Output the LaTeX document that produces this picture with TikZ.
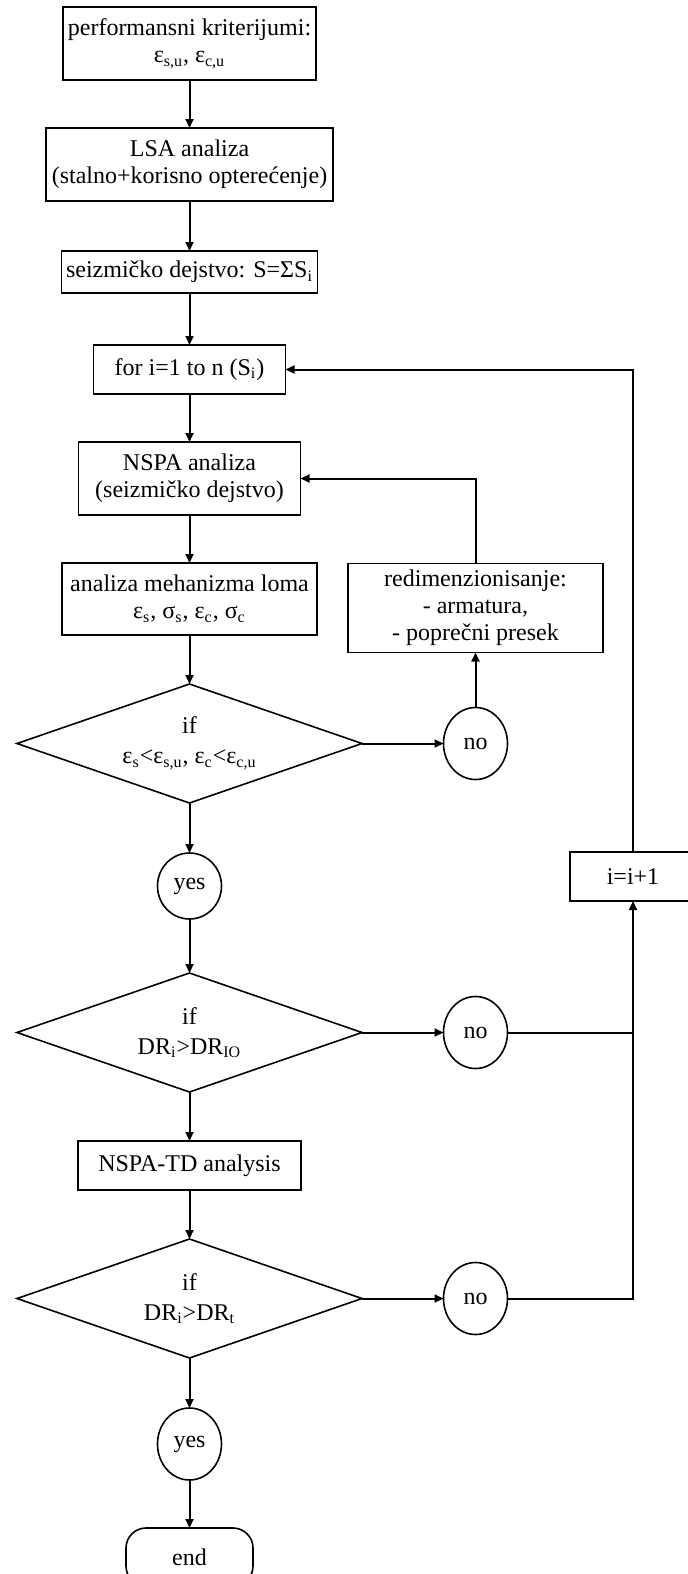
\documentclass[tikz,border=0pt]{standalone}
\usepackage{fontspec}
\setmainfont{Liberation Serif}
\usepackage{tikz}
\usetikzlibrary{arrows.meta, shapes.geometric, positioning}
\tikzset{
  procbox/.style={rectangle, draw, line width=0.8pt, align=center, inner sep=1pt, outer sep=0pt,
    font=\fontsize{12}{13.5}\selectfont},
  ifbox/.style={diamond, draw, line width=0.8pt, align=center, inner sep=0pt, outer sep=0pt, aspect=2.9,
    minimum width=172.5pt, minimum height=59.5pt, font=\fontsize{12}{15}\selectfont},
  answer/.style={ellipse, draw, line width=0.8pt, inner sep=0pt, outer sep=0pt,
    minimum width=32pt, minimum height=36pt, font=\fontsize{12}{13.5}\selectfont},
  flowarrow/.style={-{Triangle[length=4.5pt, width=4pt]}, line width=1pt},
}
\newcommand{\sbs}[1]{\textsubscript{#1}}

\begin{document}
\begin{tikzpicture}
  \useasboundingbox (0,0) rectangle (344pt,-787pt);

  % main column
  \node[procbox, minimum width=126.5pt, minimum height=36.5pt] (perf) at (94.75pt,-21.75pt)
    {performansni kriterijumi:\\ε\sbs{s,u}, ε\sbs{c,u}};
  \node[procbox, minimum width=143.5pt, minimum height=36.5pt, below=24pt of perf] (lsa)
    {LSA analiza\\(stalno+korisno opterećenje)};
  \node[procbox, minimum width=128pt, minimum height=21pt, below=25pt of lsa] (seism)
    {seizmičko dejstvo: S=ΣS\sbs{i}};
  \node[procbox, minimum width=96pt, minimum height=24.5pt, below=26pt of seism] (forloop)
    {for i=1 to n (S\sbs{i})};
  \node[procbox, minimum width=111pt, minimum height=36.5pt, below=24pt of forloop] (nspa)
    {NSPA analiza\\(seizmičko dejstvo)};
  \node[procbox, minimum width=127.5pt, minimum height=36pt, below=24pt of nspa] (mech)
    {analiza mehanizma loma\\ε\sbs{s}, σ\sbs{s}, ε\sbs{c}, σ\sbs{c}};
  \node[ifbox, below=24.5pt of mech] (if1) {if\\ε\sbs{s}<ε\sbs{s,u}, ε\sbs{c}<ε\sbs{c,u}};
  \node[answer, minimum height=33pt, below=25pt of if1] (yes1) {yes};
  \node[ifbox, below=27pt of yes1] (if2) {if\\DR\sbs{i}>DR\sbs{IO}};
  \node[procbox, minimum width=111.5pt, minimum height=24.5pt, below=24.5pt of if2] (td)
    {NSPA-TD analysis};
  \node[ifbox, below=24.5pt of td] (if3) {if\\DR\sbs{i}>DR\sbs{t}};
  \node[answer, below=25pt of if3] (yes2) {yes};
  \node[procbox, rounded corners=10pt, minimum width=63.5pt, minimum height=29pt,
    below=24pt of yes2] (stop) {end};

  % right side
  \foreach \n in {1,2,3}
    \node[answer, right=40.75pt of if\n] (no\n) {no};
  \node[procbox, minimum width=127.5pt, minimum height=44.5pt, above=27.5pt of no1] (redim)
    {redimenzionisanje:\\- armatura,\\- poprečni presek};
  \node[procbox, minimum width=63pt, minimum height=24.5pt] (inc) at (316.5pt,-438.25pt) {i=i+1};
  \coordinate (join) at (no2 -| inc);

  % connectors
  \foreach \a/\b in {perf/lsa, lsa/seism, seism/forloop, forloop/nspa, nspa/mech, mech/if1,
      if1/yes1, yes1/if2, if2/td, td/if3, if3/yes2, yes2/stop}
    \draw[flowarrow] (\a) -- (\b);
  \foreach \n in {1,2,3}
    \draw[flowarrow] (if\n) -- (no\n);
  \draw[flowarrow] (no1) -- (redim);
  \draw[flowarrow] (redim.north) |- (nspa.east);
  \draw[line width=1pt] (no2) -- (join);
  \draw[flowarrow] (no3) -| (inc.south);
  \draw[flowarrow] (inc.north) |- (forloop.east);
\end{tikzpicture}
\end{document}
